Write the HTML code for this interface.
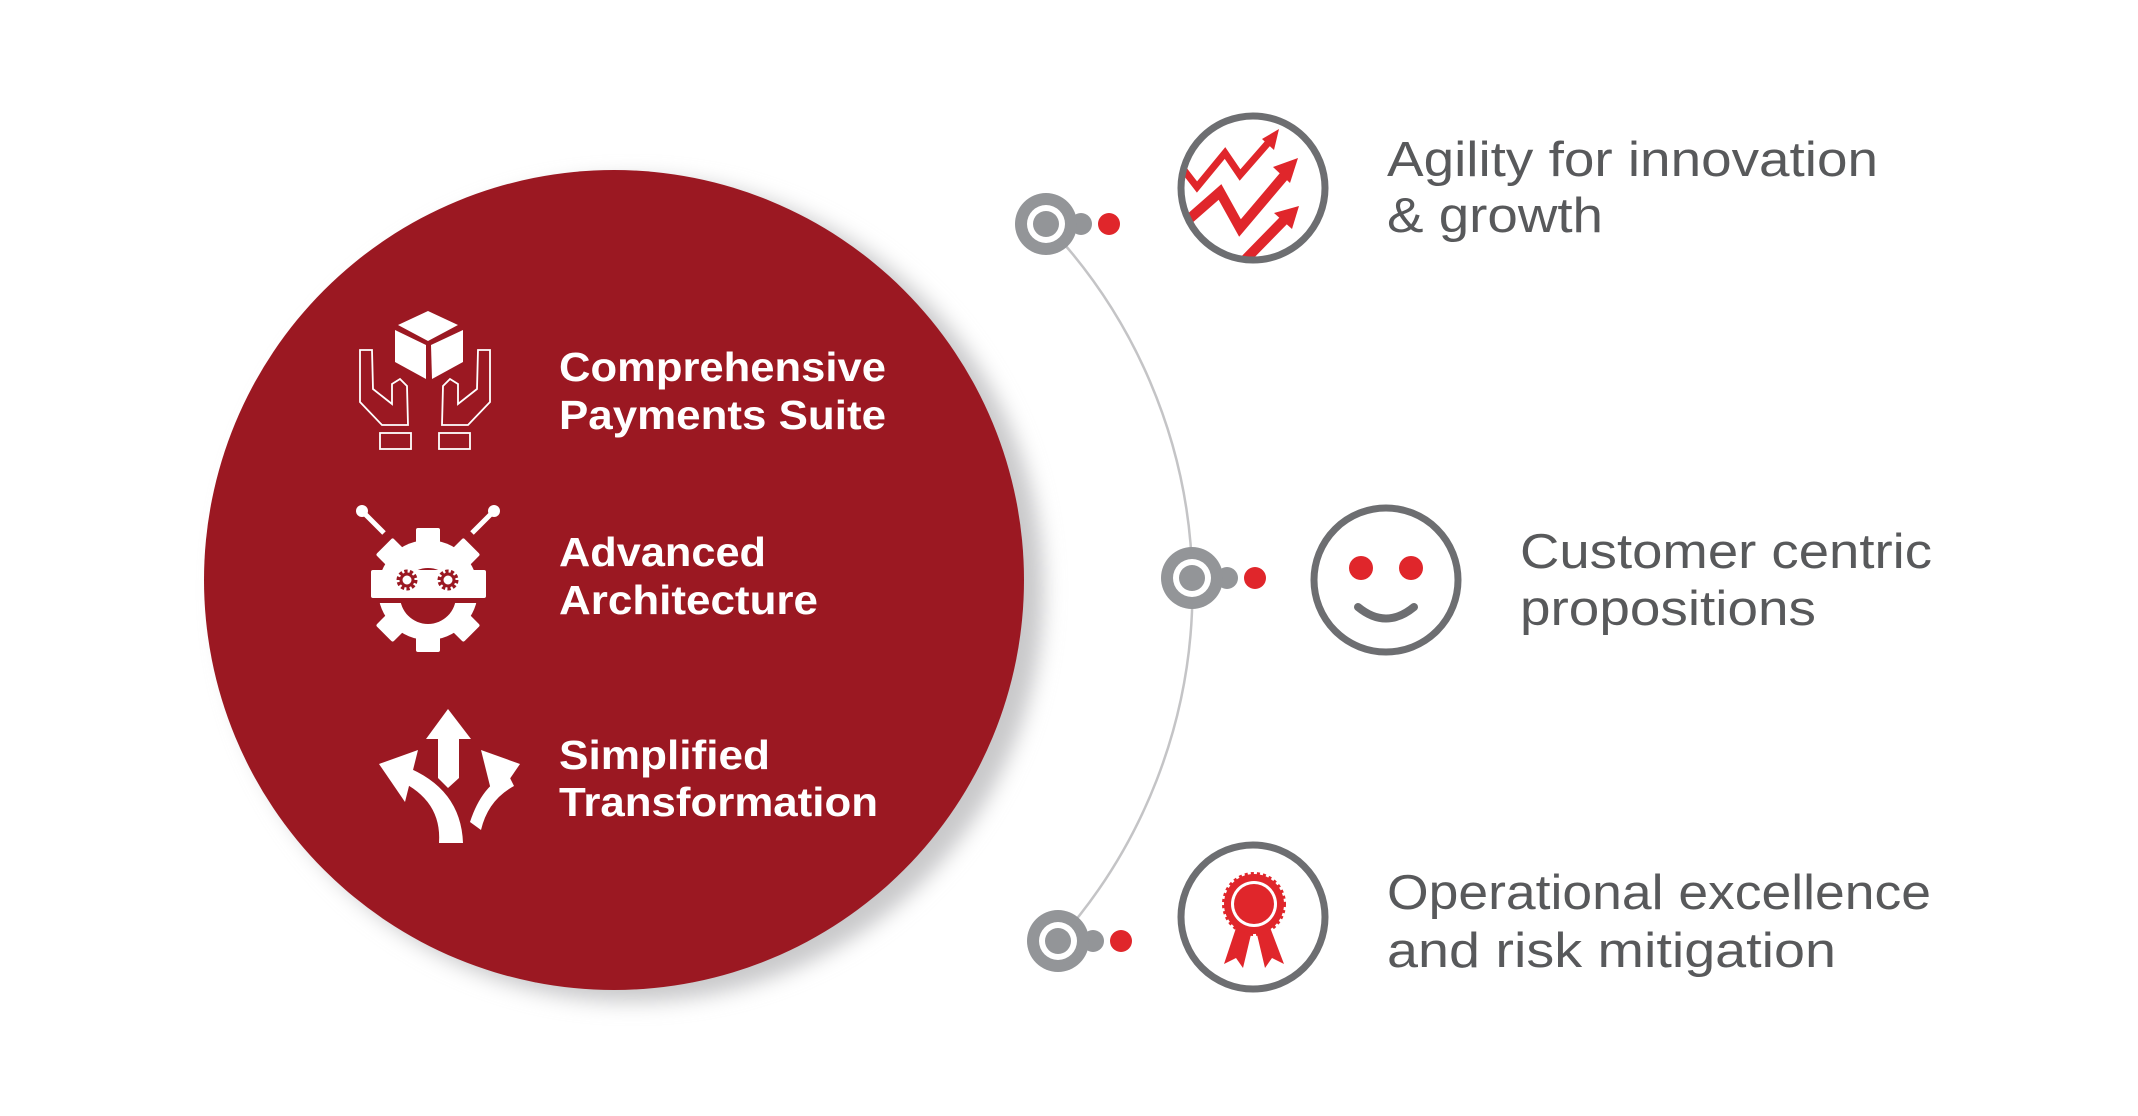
<!DOCTYPE html>
<html><head><meta charset="utf-8"><style>
html,body{margin:0;padding:0;background:#fff;}
svg{display:block;}
text{font-family:"Liberation Sans",sans-serif;}
</style></head><body>
<svg width="2138" height="1116" viewBox="0 0 2138 1116" xmlns="http://www.w3.org/2000/svg">
<defs>
<filter id="blur" x="-20%" y="-20%" width="140%" height="140%"><feGaussianBlur stdDeviation="10"/></filter>
<clipPath id="c1"><circle cx="1253" cy="188" r="70"/></clipPath>
</defs>
<circle cx="632" cy="590" r="412" fill="#c9c9cb" filter="url(#blur)"/>
<circle cx="614" cy="580" r="410" fill="#9b1822"/>

<g fill="none" stroke="#fff" stroke-width="1.8">
<polygon points="360,350 372,350 373,389 392,404 392,384 400,379 407,386 408,425 382,425 360,402"/>
<rect x="380" y="433" width="31" height="16"/>
<polygon points="490,350 478,350 477,389 458,404 458,384 450,379 443,386 442,425 468,425 490,402"/>
<rect x="439" y="433" width="31" height="16"/>
</g>
<g fill="#fff">
<polygon points="398,325 428,311 458,325 428,341"/>
<polygon points="395,330 426,345 426,379 395,362"/>
<polygon points="431,345 463,330 463,362 432,379"/>
</g>

<g fill="#fff">
<line x1="362" y1="511" x2="384" y2="533" stroke="#fff" stroke-width="5"/>
<line x1="494" y1="511" x2="472" y2="533" stroke="#fff" stroke-width="5"/>
<circle cx="362" cy="511" r="6"/><circle cx="494" cy="511" r="6"/>
<circle cx="428" cy="590" r="50"/>
<g transform="translate(428 590)">
<rect x="-12" y="-62" width="24" height="20" rx="2"/>
<rect x="-12" y="42" width="24" height="20" rx="2"/>
<rect x="-12" y="-62" width="24" height="20" rx="2" transform="rotate(45)"/>
<rect x="-12" y="-62" width="24" height="20" rx="2" transform="rotate(-45)"/>
<rect x="-12" y="42" width="24" height="20" rx="2" transform="rotate(45)"/>
<rect x="-12" y="42" width="24" height="20" rx="2" transform="rotate(-45)"/>
</g>
<circle cx="428" cy="596" r="28" fill="#9b1822"/>
<rect x="371" y="570" width="115" height="28" rx="2"/>
<rect x="360" y="598" width="140" height="5" fill="#9b1822"/>
</g>
<g fill="none" stroke="#9b1822">
<circle cx="407" cy="580" r="8" stroke-width="5" stroke-dasharray="3 2"/><circle cx="448" cy="580" r="8" stroke-width="5" stroke-dasharray="3 2"/>
<circle cx="407" cy="580" r="6" stroke-width="3"/><circle cx="448" cy="580" r="6" stroke-width="3"/>
</g>

<g fill="#fff">
<polygon points="448,709 471,739 426,739"/>
<polygon points="438,737 459,737 459,778 448,788 438,778"/>
<path d="M439 843 Q442 800 398 780 L404 766 Q461 788 463 843 Z"/>
<polygon points="379,764 418,750 405,802"/>
<path d="M470 822 Q482 785 508 774 L514 786 Q488 800 481 830 Z"/>
<polygon points="520,764 481,750 494,802"/>
</g>

<g fill="#fff" font-weight="bold" font-size="41">
<text x="559" y="381" textLength="327" lengthAdjust="spacingAndGlyphs">Comprehensive</text>
<text x="559" y="429" textLength="327" lengthAdjust="spacingAndGlyphs">Payments Suite</text>
<text x="559" y="566" textLength="207" lengthAdjust="spacingAndGlyphs">Advanced</text>
<text x="559" y="614" textLength="259" lengthAdjust="spacingAndGlyphs">Architecture</text>
<text x="559" y="769" textLength="211" lengthAdjust="spacingAndGlyphs">Simplified</text>
<text x="559" y="816" textLength="319" lengthAdjust="spacingAndGlyphs">Transformation</text>
</g>

<path d="M1046 224 A528 528 0 0 1 1058 941" fill="none" stroke="#c4c4c6" stroke-width="2.5"/>

<g>
<g transform="translate(1046 224)"><circle cx="35" cy="0" r="11" fill="#939598"/><circle r="31" fill="#939598"/><circle r="19" fill="#fff"/><circle r="13" fill="#939598"/></g>
<circle cx="1109" cy="224" r="11" fill="#e0262b"/>
<g transform="translate(1192 578)"><circle cx="35" cy="0" r="11" fill="#939598"/><circle r="31" fill="#939598"/><circle r="19" fill="#fff"/><circle r="13" fill="#939598"/></g>
<circle cx="1255" cy="578" r="11" fill="#e0262b"/>
<g transform="translate(1058 941)"><circle cx="35" cy="0" r="11" fill="#939598"/><circle r="31" fill="#939598"/><circle r="19" fill="#fff"/><circle r="13" fill="#939598"/></g>
<circle cx="1121" cy="941" r="11" fill="#e0262b"/>
</g>

<g clip-path="url(#c1)" fill="none" stroke="#e0262b" stroke-linejoin="miter">
<polyline points="1180,165 1197,187 1225,153 1240,175 1268,143" stroke-width="7"/>
<polyline points="1188,220 1220,192 1240,228 1284,176" stroke-width="10"/>
<polyline points="1240,265 1285,219" stroke-width="10"/>
</g>
<g fill="#e0262b">
<polygon points="1279,129 1262,139 1274,150"/>
<polygon points="1298,158 1273,167 1290,183"/>
<polygon points="1299,206 1274,213 1292,229"/>
</g>
<circle cx="1253" cy="188" r="72" fill="none" stroke="#6d6e71" stroke-width="7"/>

<circle cx="1386" cy="580" r="72" fill="none" stroke="#6d6e71" stroke-width="7"/>
<ellipse cx="1361" cy="568" rx="12" ry="12" fill="#e0262b"/>
<ellipse cx="1411" cy="568" rx="12" ry="12" fill="#e0262b"/>
<path d="M1358 607 Q1386 630 1414 607" fill="none" stroke="#6d6e71" stroke-width="8" stroke-linecap="round"/>

<circle cx="1253" cy="917" r="72" fill="none" stroke="#6d6e71" stroke-width="7"/>
<g fill="#e0262b">
<polygon points="1238,922 1224,964 1236,958 1243,968 1253,926"/>
<polygon points="1268,922 1284,964 1272,958 1265,968 1255,926"/>
<circle cx="1254" cy="904" r="30" stroke="#e0262b" stroke-width="4" stroke-dasharray="3 3"/>
<circle cx="1254" cy="904" r="23" fill="#fff"/>
<circle cx="1254" cy="904" r="20"/>
</g>

<g fill="#58595b" font-size="49">
<text x="1387" y="176" textLength="491" lengthAdjust="spacingAndGlyphs">Agility for innovation</text>
<text x="1387" y="232" textLength="216" lengthAdjust="spacingAndGlyphs">&amp; growth</text>
<text x="1520" y="568" textLength="412" lengthAdjust="spacingAndGlyphs">Customer centric</text>
<text x="1520" y="625" textLength="296" lengthAdjust="spacingAndGlyphs">propositions</text>
<text x="1387" y="909" textLength="544" lengthAdjust="spacingAndGlyphs">Operational excellence</text>
<text x="1387" y="967" textLength="449" lengthAdjust="spacingAndGlyphs">and risk mitigation</text>
</g>
</svg>
</body></html>
